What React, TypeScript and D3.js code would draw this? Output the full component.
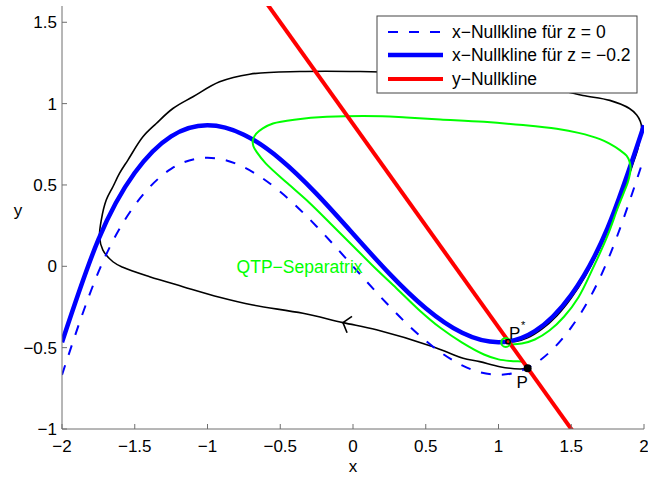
import React from "react";
import * as d3 from "d3";

// x-nullcline samples for z = 0 and z = -0.2
const nullX = [-2, -1.75, -1.5, -1.25, -1, -0.75, -0.5, -0.25, 0, 0.25, 0.5, 0.75, 1, 1.25, 1.5, 1.75, 2];
const nullYz0 = [-0.667, -0.036, 0.375, 0.599, 0.667, 0.609, 0.458, 0.245, 0, -0.245, -0.458, -0.609, -0.667, -0.599, -0.375, 0.036, 0.667];
const nullYzm02 = [-0.467, 0.164, 0.575, 0.799, 0.867, 0.809, 0.658, 0.445, 0.2, -0.045, -0.258, -0.409, -0.467, -0.399, -0.175, 0.236, 0.867];

// y-nullcline end points
const yNullX = [-0.62, 1.52];
const yNullY = [1.65, -1.025];

// QTP separatrix, starting at P*
const separatrix: [number, number][] = [
  [1.09, -0.48], [1.16, -0.475], [1.25, -0.45], [1.35, -0.395], [1.45, -0.31], [1.55, -0.19],
  [1.65, -0.01], [1.75, 0.19], [1.82, 0.36], [1.86, 0.45], [1.89, 0.52], [1.908, 0.6],
  [1.9, 0.645], [1.88, 0.68], [1.834, 0.714], [1.76, 0.755], [1.697, 0.782], [1.55, 0.82],
  [1.4, 0.845], [1.169, 0.868], [0.9, 0.888], [0.6, 0.903], [0.367, 0.915], [0.2, 0.923],
  [-0.18, 0.919], [-0.39, 0.903], [-0.55, 0.878], [-0.62, 0.848], [-0.665, 0.815],
  [-0.688, 0.776], [-0.685, 0.74], [-0.66, 0.7], [-0.6, 0.633], [-0.45, 0.51],
  [-0.3, 0.391], [-0.15, 0.259], [0, 0.125], [0.15, -0.009], [0.3, -0.136],
  [0.45, -0.265], [0.6, -0.378], [0.75, -0.469], [0.9, -0.542], [1.0, -0.572],
  [1.1, -0.583], [1.16, -0.586], [1.175, -0.6],
];

// Trajectory from P around the cycle to P*
const trajectory: [number, number][] = [
  [1.2, -0.627], [1.147, -0.631], [1.009, -0.617], [0.871, -0.586], [0.757, -0.565],
  [0.665, -0.534], [0.55, -0.494], [0.161, -0.39], [-0.069, -0.346], [-0.344, -0.289],
  [-0.688, -0.238], [-0.917, -0.19], [-1.169, -0.125], [-1.398, -0.064], [-1.582, -0.006],
  [-1.65, 0.028], [-1.719, 0.1], [-1.742, 0.182], [-1.73, 0.284], [-1.696, 0.407],
  [-1.65, 0.489], [-1.605, 0.571], [-1.547, 0.653], [-1.444, 0.796], [-1.352, 0.878],
  [-1.238, 0.97], [-1.1, 1.042], [-0.917, 1.134], [-0.71, 1.181], [-0.367, 1.197],
  [0.046, 1.197], [0.3, 1.19], [0.7, 1.16], [1.1, 1.12], [1.4, 1.085], [1.58, 1.05],
  [1.765, 1.02], [1.9, 0.97], [1.95, 0.93], [1.975, 0.89], [1.983, 0.855], [1.96, 0.73],
  [1.92, 0.62], [1.87, 0.49], [1.8, 0.32], [1.7, 0.12], [1.6, -0.055], [1.5, -0.195],
  [1.4, -0.305], [1.3, -0.385], [1.2, -0.44], [1.12, -0.462], [1.066, -0.463],
];

// Direction arrow on the trajectory: position and the next point along the line
const arrowAt: [number, number] = [-0.069, -0.346];
const arrowToward: [number, number] = [0.161, -0.39];

// Equilibria
const pointP: [number, number] = [1.2, -0.627];
const pointPStar: [number, number] = [1.066, -0.463];
const loopCenter: [number, number] = [1.05, -0.468];

const xTicks = [-2, -1.5, -1, -0.5, 0, 0.5, 1, 1.5, 2];
const yTicks = [-1, -0.5, 0, 0.5, 1, 1.5];

const legendLabels = ["x\u2212Nullkline f\u00fcr z = 0", "x\u2212Nullkline f\u00fcr z = \u22120.2", "y\u2212Nullkline"];
const separatrixLabel = { text: "QTP\u2212Separatrix", x: -0.8, y: -0.04 };

const W = 648;
const H = 477;
const left = 62;
const right = 644;
const top = 6;
const bottom = 429;
const FONT = "'Liberation Sans', Arial, Helvetica, sans-serif";
const BLUE = "#0000ff";
const RED = "#ff0000";
const GREEN = "#00ff00";
const AXIS = "#6e6e6e";

const fmt = (v: number) => {
  const s = String(Math.abs(v));
  return v < 0 ? "\u2212" + s : s;
};

export default function App() {
  const x = d3.scaleLinear().domain([-2, 2]).range([left, right]);
  const y = d3.scaleLinear().domain([-1, 1.6]).range([bottom, top]);

  const smooth = d3
    .line<[number, number]>()
    .x((d) => x(d[0]))
    .y((d) => y(d[1]))
    .curve(d3.curveNatural);
  const traced = d3
    .line<[number, number]>()
    .x((d) => x(d[0]))
    .y((d) => y(d[1]))
    .curve(d3.curveCatmullRom.alpha(0.5));
  const straight = d3
    .line<[number, number]>()
    .x((d) => x(d[0]))
    .y((d) => y(d[1]));

  const z0 = nullX.map((v, i) => [v, nullYz0[i]] as [number, number]);
  const zm = nullX.map((v, i) => [v, nullYzm02[i]] as [number, number]);
  const yNull = yNullX.map((v, i) => [v, yNullY[i]] as [number, number]);

  // arrow head
  const ax = x(arrowAt[0]);
  const ay = y(arrowAt[1]);
  const ang = Math.atan2(y(arrowToward[1]) - ay, x(arrowToward[0]) - ax);
  const a1 = ang - (47 * Math.PI) / 180;
  const a2 = ang + (56 * Math.PI) / 180;
  const armLen = 11;

  const legX = 377;
  const legY = 16;
  const legW = 260;
  const legH = 77;
  const rows = [32, 55, 79];

  return (
    <svg
      width={W}
      height={H}
      style={{ position: "absolute", left: 0, top: 0, background: "#fff" }}
      fontFamily={FONT}
    >
      <defs>
        <clipPath id="plot-area">
          <rect x={left} y={top} width={right - left} height={bottom - top} />
        </clipPath>
      </defs>
      <rect x={0} y={0} width={W} height={H} fill="#fff" />

      <g clipPath="url(#plot-area)" fill="none" strokeLinejoin="round">
        <path d={traced(trajectory) || ""} stroke="#000" strokeWidth={1.6} />
        <path d={smooth(z0) || ""} stroke={BLUE} strokeWidth={2} strokeDasharray="10,11" />
        <path d={smooth(zm) || ""} stroke={BLUE} strokeWidth={4.5} />
        <path d={traced(separatrix) || ""} stroke={GREEN} strokeWidth={2} />
        <path d={straight(yNull) || ""} stroke={RED} strokeWidth={4} />
        <line x1={ax} y1={ay} x2={ax + armLen * Math.cos(a1)} y2={ay + armLen * Math.sin(a1)} stroke="#000" strokeWidth={1.6} />
        <line x1={ax} y1={ay} x2={ax + armLen * Math.cos(a2)} y2={ay + armLen * Math.sin(a2)} stroke="#000" strokeWidth={1.6} />
        <circle cx={x(loopCenter[0])} cy={y(loopCenter[1])} r={4.5} stroke={GREEN} strokeWidth={2} />
        <circle cx={x(pointPStar[0])} cy={y(pointPStar[1])} r={2.2} stroke="#000" strokeWidth={1.5} />
        <circle cx={x(pointP[0])} cy={y(pointP[1])} r={4} fill="#000" />
      </g>

      {/* equilibrium labels */}
      <text x={x(pointPStar[0]) + 1} y={y(pointPStar[1]) - 3} fontSize={17} fill="#000">
        P
      </text>
      <text x={x(pointPStar[0]) + 13} y={y(pointPStar[1]) - 13} fontSize={11} fill="#000">
        *
      </text>
      <text x={x(pointP[0]) - 11} y={y(pointP[1]) + 20} fontSize={17} fill="#000">
        P
      </text>
      <text x={x(separatrixLabel.x)} y={y(separatrixLabel.y)} fontSize={17.5} fill={GREEN}>
        {separatrixLabel.text}
      </text>

      {/* axes */}
      <line x1={left} y1={bottom} x2={right} y2={bottom} stroke={AXIS} strokeWidth={1} />
      <line x1={left} y1={bottom} x2={left} y2={top} stroke={AXIS} strokeWidth={1} />
      {xTicks.map((t) => (
        <g key={"x" + t}>
          <line x1={x(t)} x2={x(t)} y1={bottom} y2={bottom - 5} stroke={AXIS} />
          <text x={x(t)} y={452} fontSize={17} textAnchor="middle" fill="#000">
            {fmt(t)}
          </text>
        </g>
      ))}
      {yTicks.map((t) => (
        <g key={"y" + t}>
          <line x1={left} x2={left + 5} y1={y(t)} y2={y(t)} stroke={AXIS} />
          <text x={57} y={y(t) + 6} fontSize={17} textAnchor="end" fill="#000">
            {fmt(t)}
          </text>
        </g>
      ))}
      <text x={(left + right) / 2} y={472} fontSize={17} textAnchor="middle" fill="#000">
        x
      </text>
      <text x={18} y={216} fontSize={17} textAnchor="middle" fill="#000">
        y
      </text>

      {/* legend */}
      <rect x={legX} y={legY} width={legW} height={legH} fill="#fff" stroke="#444" strokeWidth={1} />
      <line x1={388} x2={443} y1={rows[0]} y2={rows[0]} stroke={BLUE} strokeWidth={2} strokeDasharray="10,11" />
      <line x1={388} x2={443} y1={rows[1]} y2={rows[1]} stroke={BLUE} strokeWidth={4.5} />
      <line x1={388} x2={443} y1={rows[2]} y2={rows[2]} stroke={RED} strokeWidth={4} />
      {legendLabels.map((s, i) => (
        <text key={s} x={452} y={rows[i] + 6} fontSize={17.5} fill="#000">
          {s}
        </text>
      ))}
    </svg>
  );
}
